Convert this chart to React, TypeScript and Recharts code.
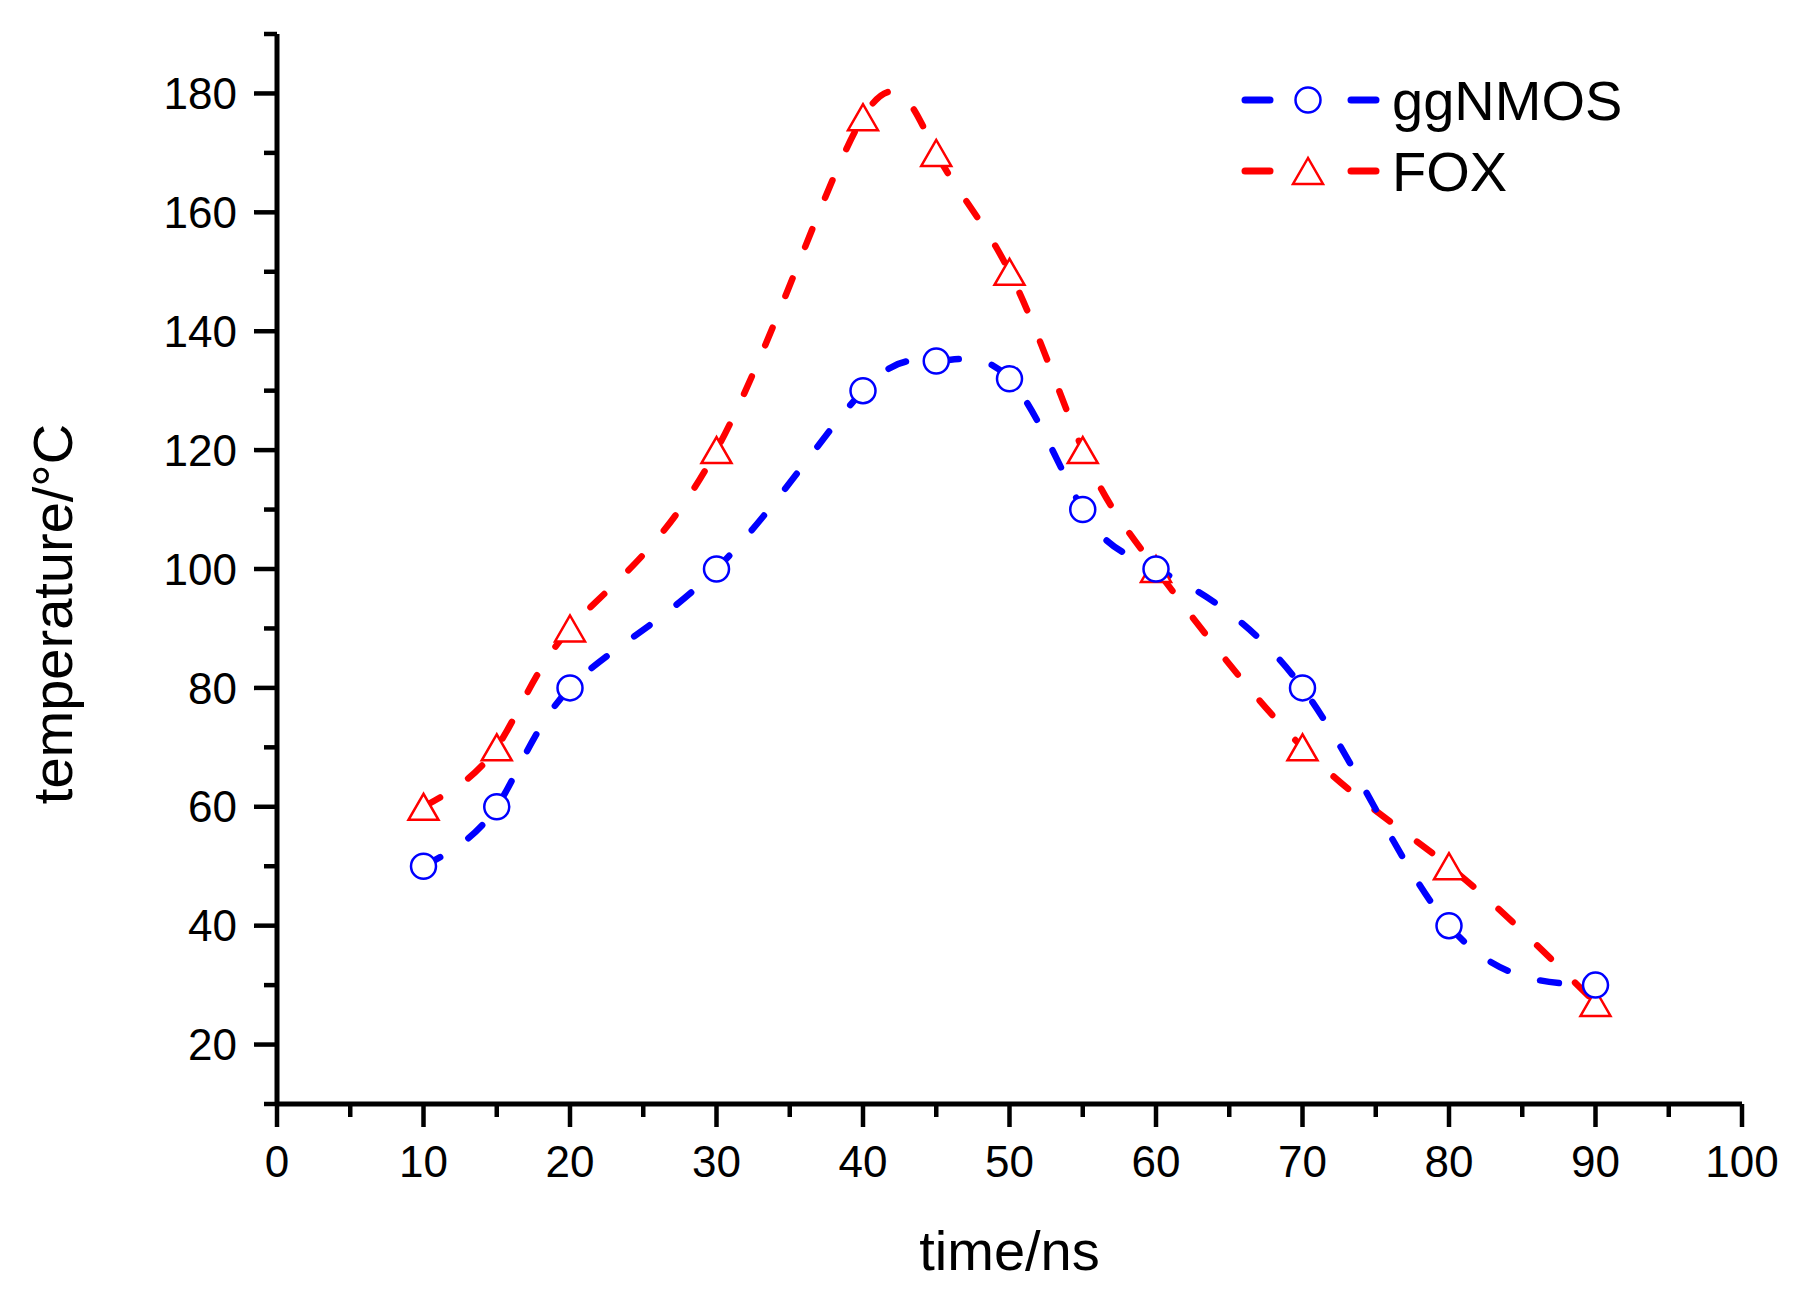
import React from 'react';
import { LineChart, Line, XAxis, YAxis, Legend } from 'recharts';

// time points (ns) and measured temperatures (°C)
const times = [10, 15, 20, 30, 40, 45, 50, 55, 60, 70, 80, 90];
const ggnmos = [50, 60, 80, 100, 130, 135, 132, 110, 100, 80, 40, 30];
const fox = [60, 70, 90, 120, 176, 170, 150, 120, 100, 70, 50, 27];

const xTicks = [0, 5, 10, 15, 20, 25, 30, 35, 40, 45, 50, 55, 60, 65, 70, 75, 80, 85, 90, 95, 100];
const yTicks = [10, 20, 30, 40, 50, 60, 70, 80, 90, 100, 110, 120, 130, 140, 150, 160, 170, 180, 190];

const seriesNames = ['ggNMOS', 'FOX'];

const data = times.map((t, i) => ({ t, ggNMOS: ggnmos[i], FOX: fox[i] }));

const FONT = '"Liberation Sans", Arial, sans-serif';
const BLUE = '#0000ff';
const RED = '#ff0000';

const XTick = (props: any) => {
  const { x, y, payload } = props;
  const major = payload.value % 10 === 0;
  return (
    <g>
      <line x1={x} y1={y} x2={x} y2={y + (major ? 23 : 13)} stroke="#000" strokeWidth={4.5} />
      {major && (
        <text x={x} y={y + 73} textAnchor="middle" fontSize={44} fontFamily={FONT} fill="#000">
          {payload.value}
        </text>
      )}
    </g>
  );
};

const YTick = (props: any) => {
  const { x, y, payload } = props;
  const major = payload.value % 20 === 0;
  return (
    <g>
      <line x1={x} y1={y} x2={x - (major ? 23 : 13)} y2={y} stroke="#000" strokeWidth={4.5} />
      {major && (
        <text x={x - 40} y={y} dy="0.355em" textAnchor="end" fontSize={44} fontFamily={FONT} fill="#000">
          {payload.value}
        </text>
      )}
    </g>
  );
};

const Circle = (props: any) => {
  const { cx, cy, index } = props;
  return <circle key={`c${index}`} cx={cx} cy={cy} r={12.5} fill="#fff" stroke={BLUE} strokeWidth={2.5} />;
};

const Triangle = (props: any) => {
  const { cx, cy, index } = props;
  const pts = `${cx},${cy - 13} ${cx - 15},${cy + 13} ${cx + 15},${cy + 13}`;
  return <polygon key={`t${index}`} points={pts} fill="#fff" stroke={RED} strokeWidth={2.5} />;
};

const LegendBox = () => (
  <svg width={420} height={150}>
    {seriesNames.map((name, i) => {
      const cy = 40 + i * 71;
      const color = i === 0 ? BLUE : RED;
      return (
        <g key={name}>
          <line x1={8} y1={cy} x2={33} y2={cy} stroke={color} strokeWidth={7} strokeLinecap="round" />
          <line x1={114} y1={cy} x2={139} y2={cy} stroke={color} strokeWidth={7} strokeLinecap="round" />
          {i === 0 ? (
            <circle cx={71} cy={cy} r={12.5} fill="#fff" stroke={color} strokeWidth={2.5} />
          ) : (
            <polygon points={`71,${cy - 13} 56,${cy + 13} 86,${cy + 13}`} fill="#fff" stroke={color} strokeWidth={2.5} />
          )}
          <text x={155} y={cy} dy="0.36em" fontSize={56} fontFamily={FONT} fill="#000">
            {name}
          </text>
        </g>
      );
    })}
  </svg>
);

const YLabel = (props: any) => {
  const { viewBox } = props;
  const cy = viewBox.y + viewBox.height / 2 + 45;
  const bx = viewBox.x + 72;
  return (
    <text x={bx} y={cy} transform={`rotate(-90, ${bx}, ${cy})`} textAnchor="middle" fontSize={56} fontFamily={FONT} fill="#000">
      temperature/°C
    </text>
  );
};

const XLabel = (props: any) => {
  const { viewBox } = props;
  return (
    <text x={viewBox.x + viewBox.width / 2} y={viewBox.y + 166} textAnchor="middle" fontSize={56} fontFamily={FONT} fill="#000">
      time/ns
    </text>
  );
};

export default function App() {
  return (
    <div style={{ position: 'absolute', left: 0, top: 0, width: 1801, height: 1299, background: '#fff' }}>
      <LineChart width={1801} height={1299} data={data} margin={{ top: 34, right: 59, left: 0, bottom: 0 }}>
        <XAxis
          dataKey="t"
          type="number"
          domain={[0, 100]}
          ticks={xTicks}
          interval={0}
          height={195}
          tickSize={0}
          tickMargin={0}
          tickLine={false}
          axisLine={{ stroke: '#000', strokeWidth: 5 }}
          tick={<XTick />}
          label={<XLabel />}
        />
        <YAxis
          type="number"
          domain={[10, 190]}
          ticks={yTicks}
          interval={0}
          width={277}
          tickSize={0}
          tickMargin={0}
          tickLine={false}
          axisLine={{ stroke: '#000', strokeWidth: 5 }}
          tick={<YTick />}
          label={<YLabel />}
        />
        <Legend
          layout="vertical"
          align="center"
          verticalAlign="middle"
          wrapperStyle={{ left: 1237, top: 60, width: 420 }}
          content={() => <LegendBox />}
        />
        <Line
          type="natural"
          dataKey="FOX"
          stroke={RED}
          strokeWidth={6.5}
          strokeDasharray="19 34"
          strokeLinecap="round"
          dot={<Triangle />}
          isAnimationActive={false}
        />
        <Line
          type="natural"
          dataKey="ggNMOS"
          stroke={BLUE}
          strokeWidth={6.5}
          strokeDasharray="19 34"
          strokeLinecap="round"
          dot={<Circle />}
          isAnimationActive={false}
        />
      </LineChart>
    </div>
  );
}
